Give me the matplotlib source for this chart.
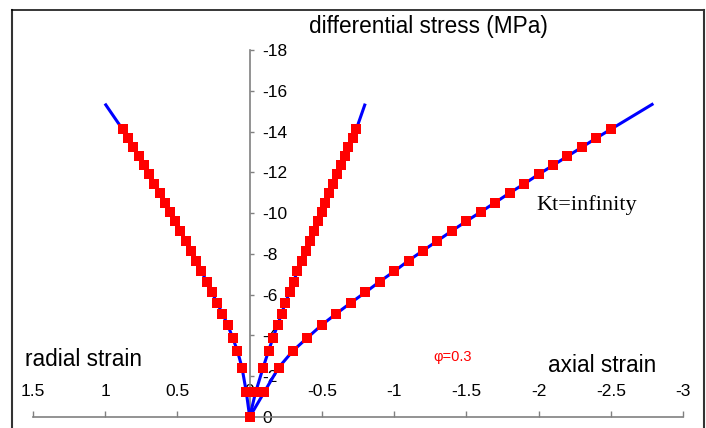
"""
    Stress-strain curves (radial, volumetric, axial) for Kt = infinity, phi = 0.3
"""

import matplotlib
matplotlib.use('Agg')
import matplotlib.pyplot as plt
from matplotlib.lines import Line2D
from matplotlib.ticker import FuncFormatter

plt.rcParams['font.family'] = ['Liberation Sans', 'DejaVu Sans']
plt.rcParams['axes.unicode_minus'] = False

# differential stress (MPa) of each measured point, shared by the three curves
stress = [0, -1.21, -2.42, -3.25, -3.89, -4.52, -5.07, -5.60, -6.11, -6.64,
          -7.14, -7.67, -8.16, -8.64, -9.13, -9.60, -10.06, -10.52, -10.99,
          -11.43, -11.90, -12.34, -12.79, -13.23, -13.68, -14.11]
radial = [0, 0.023, 0.053, 0.085, 0.118, 0.152, 0.189, 0.226, 0.261, 0.297,
          0.334, 0.371, 0.408, 0.444, 0.479, 0.516, 0.553, 0.588, 0.624,
          0.661, 0.696, 0.733, 0.769, 0.807, 0.841, 0.880]
volumetric = [0, -0.041, -0.093, -0.131, -0.162, -0.194, -0.221, -0.247,
              -0.276, -0.304, -0.330, -0.359, -0.387, -0.415, -0.442, -0.470,
              -0.498, -0.523, -0.551, -0.579, -0.603, -0.631, -0.657, -0.684,
              -0.712, -0.738]
axial = [0, -0.1, -0.2, -0.3, -0.4, -0.5, -0.6, -0.7, -0.8, -0.9, -1.0,
         -1.1, -1.2, -1.3, -1.4, -1.5, -1.6, -1.7, -1.8, -1.9, -2.0, -2.1,
         -2.2, -2.3, -2.4, -2.5]

# the blue curves go on a little past the last point
stress_end = -15.37
radial_end = 1.002
volumetric_end = -0.800
axial_end = -2.795

x_ticks = [1.5, 1, 0.5, 0, -0.5, -1, -1.5, -2, -2.5, -3]
y_ticks = [0, -2, -4, -6, -8, -10, -12, -14, -16, -18]

W, H = 706, 428


def px(x, y):
    # pixel position (from top left) -> figure fraction
    return x / W, 1 - y / H


fig = plt.figure(figsize=(W / 100, H / 100), dpi=100)
ax = fig.add_axes([33 / W, 11 / H, 650 / W, 367 / H])

for strain, end in [(radial, radial_end), (volumetric, volumetric_end), (axial, axial_end)]:
    ax.plot(strain + [end], stress + [stress_end], color='#0000ff', lw=2.2,
            solid_capstyle='butt', zorder=3)
    ax.plot(strain, stress, 's', color='#ff0000', markersize=6.5,
            markeredgewidth=0, zorder=4, clip_on=False)

ax.set_xlim(1.5, -3)
ax.set_ylim(0, -18)

gray = '#808080'
ax.spines['top'].set_visible(False)
ax.spines['left'].set_visible(False)
ax.spines['right'].set_position(('data', 0))
for s in ['right', 'bottom']:
    ax.spines[s].set_color(gray)
    ax.spines[s].set_linewidth(1.2)

fmt = FuncFormatter(lambda v, pos: '%g' % v)
ax.set_xticks(x_ticks)
ax.set_yticks(y_ticks)
ax.xaxis.set_major_formatter(fmt)
ax.yaxis.set_major_formatter(fmt)
ax.yaxis.set_ticks_position('right')
ax.tick_params(axis='x', direction='in', length=4, width=1, color=gray,
               pad=-24, labelsize=12.5)
ax.tick_params(axis='y', direction='out', length=3, width=1, color=gray,
               pad=6, labelsize=12.5)

fig.text(*px(428, 27), 'differential stress (MPa)', fontsize=16.3,
         ha='center', va='center')
fig.text(*px(25, 360), 'radial strain', fontsize=16.3, ha='left', va='center')
fig.text(*px(548, 366), 'axial strain', fontsize=16.3, ha='left', va='center')
fig.text(*px(536, 205), 'Kt=infinity', fontsize=16, ha='left', va='center',
         family=['Liberation Serif', 'DejaVu Serif'])
fig.text(*px(433, 357), 'φ=0.3', fontsize=10.5, color='#ff0000', ha='left',
         va='center')

# chart area border (open at the bottom)
fig.add_artist(Line2D([12 / W, 12 / W], [0, 1 - 9.5 / H], color='#333333', lw=1.5))
fig.add_artist(Line2D([12 / W, 704 / W], [1 - 9.5 / H, 1 - 9.5 / H], color='black', lw=1.1))
fig.add_artist(Line2D([704 / W, 704 / W], [0, 1 - 9.5 / H], color='#333333', lw=1.5))

fig.savefig('out.png', dpi=100)
